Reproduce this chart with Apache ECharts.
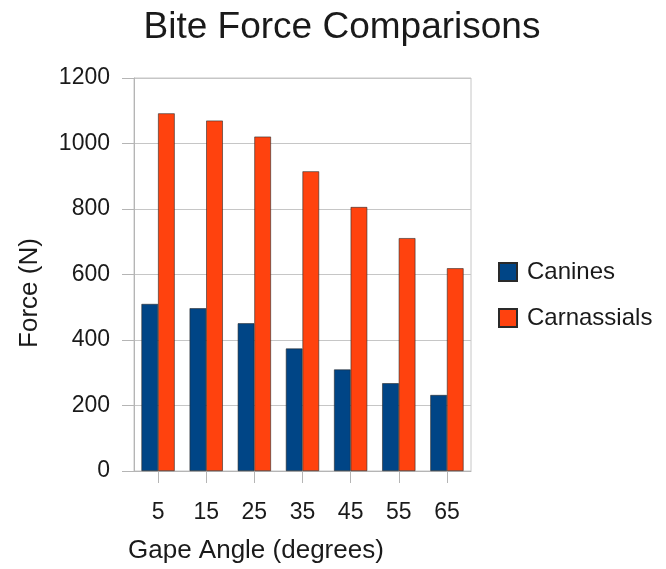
<!DOCTYPE html>
<html>
<head>
<meta charset="utf-8">
<script src="https://cdn.jsdelivr.net/npm/echarts@6/dist/echarts.min.js"></script>
<style>
  html, body { margin: 0; padding: 0; background: #ffffff; }
  #chart { width: 666px; height: 569px; }
</style>
</head>
<body>
<div id="chart"></div>
<script>
// Gape angles (degrees) on the category axis
const gapeAngles = ['5', '15', '25', '35', '45', '55', '65'];
// Bite force in newtons for each tooth type
const canines = [510, 497, 451, 374, 310, 268, 232];
const carnassials = [1092, 1070, 1021, 915, 806, 711, 619];
// Force axis range
const forceMin = 0;
const forceMax = 1200;
const forceStep = 200;

const FONT = '"Liberation Sans", Arial, sans-serif';
const TEXT = '#1a1a1a';
const GRID = '#c6c6c6';

const chart = echarts.init(document.getElementById('chart'), null, { renderer: 'canvas' });

chart.setOption({
  animation: false,
  backgroundColor: '#ffffff',
  title: {
    text: 'Bite Force Comparisons',
    left: 337,
    textAlign: 'center',
    top: 4,
    textStyle: { fontFamily: FONT, fontSize: 37, fontWeight: 'normal', color: TEXT }
  },
  legend: {
    orient: 'vertical',
    left: 493,
    top: 255,
    itemWidth: 18,
    itemHeight: 18,
    itemGap: 22,
    icon: 'rect',
    textStyle: { fontFamily: FONT, fontSize: 24, color: TEXT, padding: [0, 0, 0, 5] },
    data: ['Canines', 'Carnassials']
  },
  grid: {
    left: 134,
    right: 195,
    top: 78,
    bottom: 98,
    show: true,
    borderColor: GRID,
    borderWidth: 1
  },
  xAxis: {
    type: 'category',
    data: gapeAngles,
    axisLine: { show: true, lineStyle: { color: '#b5b5b5', width: 1 } },
    axisTick: { show: true, alignWithLabel: true, length: 12, lineStyle: { color: '#b5b5b5' } },
    axisLabel: { fontFamily: FONT, fontSize: 23, color: TEXT, margin: 30 },
    splitLine: { show: false }
  },
  yAxis: {
    type: 'value',
    min: forceMin,
    max: forceMax,
    interval: forceStep,
    axisLine: { show: true, lineStyle: { color: '#b5b5b5', width: 1 } },
    axisTick: { show: true, length: 12, lineStyle: { color: '#b5b5b5' } },
    axisLabel: {
      fontFamily: FONT, fontSize: 23, color: TEXT, margin: 24,
      formatter: (v) => String(v)
    },
    splitLine: { show: true, lineStyle: { color: GRID, width: 1 } }
  },
  graphic: [
    {
      type: 'text',
      left: 128,
      top: 538,
      style: { text: 'Gape Angle (degrees)', font: '26px ' + FONT, fill: TEXT }
    },
    {
      type: 'text',
      x: 30,
      y: 293,
      rotation: Math.PI / 2,
      style: {
        text: 'Force (N)',
        font: '26px ' + FONT,
        fill: TEXT,
        align: 'center',
        verticalAlign: 'middle'
      }
    }
  ],
  series: [
    {
      name: 'Canines',
      type: 'bar',
      data: canines,
      barGap: '0%',
      barCategoryGap: '31%',
      itemStyle: { color: '#004586', borderColor: '#2a2a2a', borderWidth: 0.6 }
    },
    {
      name: 'Carnassials',
      type: 'bar',
      data: carnassials,
      barGap: '0%',
      barCategoryGap: '31%',
      itemStyle: { color: '#ff420e', borderColor: '#2a2a2a', borderWidth: 0.6 }
    }
  ]
});
</script>
</body>
</html>
